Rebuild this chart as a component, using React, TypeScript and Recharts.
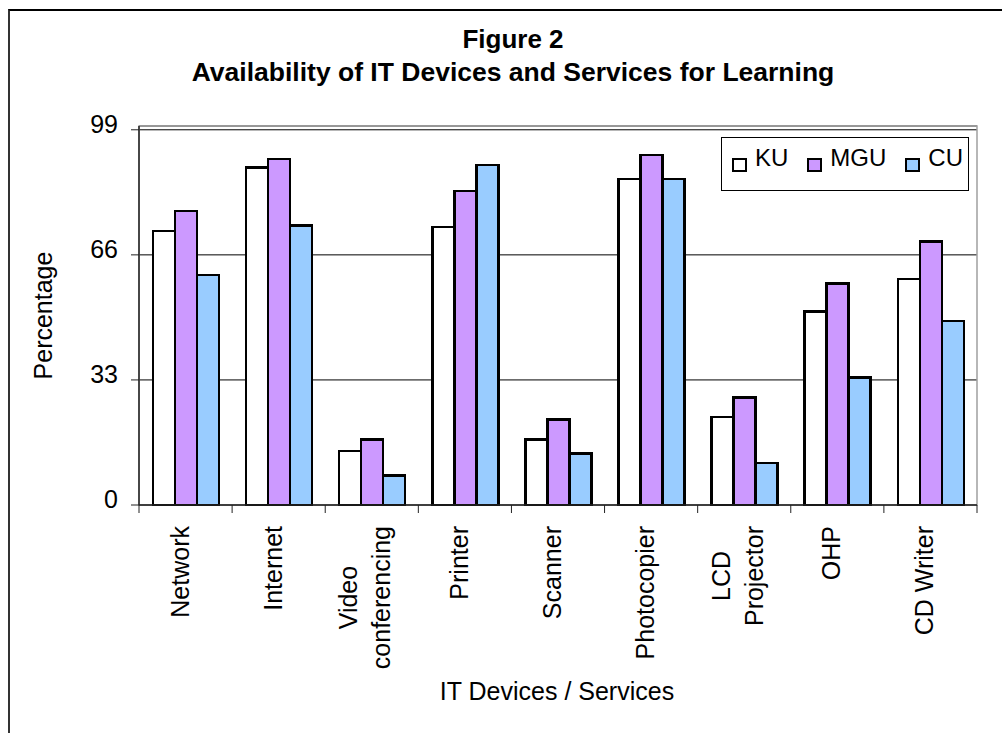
import { BarChart, Bar, XAxis, YAxis, CartesianGrid, Legend, ReferenceArea } from 'recharts';

const FONT = '"Liberation Sans", Arial, sans-serif';

const categories = [
  'Network',
  'Internet',
  'Video conferencing',
  'Printer',
  'Scanner',
  'Photocopier',
  'LCD Projector',
  'OHP',
  'CD Writer',
];
// how each category label is broken into lines under the axis
const tickLines = [
  ['Network'],
  ['Internet'],
  ['Video', 'conferencing'],
  ['Printer'],
  ['Scanner'],
  ['Photocopier'],
  ['LCD', 'Projector'],
  ['OHP'],
  ['CD Writer'],
];
const kuValues = [72.3, 89.1, 14.3, 73.4, 17.3, 86, 23.2, 51.1, 59.6];
const mguValues = [77.6, 91.3, 17.3, 82.9, 22.6, 92.4, 28.4, 58.5, 69.5];
const cuValues = [60.7, 73.8, 7.8, 89.7, 13.6, 86, 11.1, 33.7, 48.5];
const yTicks = [0, 33, 66, 99];
const seriesNames = ['KU', 'MGU', 'CU'];

const COLORS = ['#FFFFFF', '#CC99FF', '#99CCFF'];

const data = categories.map((name, i) => ({
  name,
  KU: kuValues[i],
  MGU: mguValues[i],
  CU: cuValues[i],
}));

let ctx: CanvasRenderingContext2D | null = null;
function textWidth(s: string, size: number) {
  if (!ctx) ctx = document.createElement('canvas').getContext('2d');
  if (!ctx) return s.length * size * 0.5;
  ctx.font = `${size}px ${FONT}`;
  return ctx.measureText(s).width;
}

function CategoryTick(props: any) {
  const { x, y, payload } = props;
  const idx = categories.indexOf(payload.value);
  const lines = tickLines[idx] || [payload.value];
  const half = payload.offset || 0;
  const top = y + 21;
  const longest = Math.max(...lines.map((l) => textWidth(l, 25)));

  return (
    <g>
      <line x1={x - half} y1={y} x2={x - half} y2={y + 8} stroke="#222" />
      {idx === categories.length - 1 && (
        <line x1={x + half} y1={y} x2={x + half} y2={y + 8} stroke="#222" />
      )}
      {lines.length === 1 ? (
        <text
          transform={`translate(${x + 3}, ${top}) rotate(-90)`}
          textAnchor="end"
          fontSize={25}
          fontFamily={FONT}
          fill="#000"
        >
          {lines[0]}
        </text>
      ) : (
        lines.map((l, i) => (
          <text
            key={l}
            transform={`translate(${x - 14.5 + i * 33}, ${top + longest / 2}) rotate(-90)`}
            textAnchor="middle"
            fontSize={25}
            fontFamily={FONT}
            fill="#000"
          >
            {l}
          </text>
        ))
      )}
    </g>
  );
}

function ValueTick(props: any) {
  const { x, y, payload } = props;
  return (
    <text x={x} y={y + 3} textAnchor="end" fontSize={25} fontFamily={FONT} fill="#000">
      {payload.value}
    </text>
  );
}

// bars with a heavy black outline, like the original
const OutlinedBar = (props: any) => {
  const { x, y, width, height, fill } = props;
  if (!height || height <= 0) return null;
  return (
    <rect
      x={x}
      y={y}
      width={width}
      height={height}
      fill={fill}
      stroke="#000"
      strokeWidth={2.5}
      shapeRendering="crispEdges"
    />
  );
};

const renderLegend = () => (
  <div
    style={{
      boxSizing: 'border-box',
      width: 248,
      height: 54,
      border: '1px solid #000',
      background: '#fff',
      display: 'flex',
      paddingLeft: 10,
      paddingTop: 8,
      fontSize: 24,
      lineHeight: '24px',
      fontFamily: FONT,
      color: '#000',
    }}
  >
    {seriesNames.map((name, i) => (
      <div key={name} style={{ display: 'flex', alignItems: 'flex-start', marginRight: 19 }}>
        <span
          style={{
            display: 'block',
            boxSizing: 'border-box',
            width: 15,
            height: 14,
            border: '2px solid #000',
            background: COLORS[i],
            marginTop: 12,
            marginRight: 8,
          }}
        />
        <span>{name}</span>
      </div>
    ))}
  </div>
);

export default function App() {
  return (
    <div
      style={{
        position: 'absolute',
        left: 0,
        top: 0,
        width: 1002,
        height: 733,
        background: '#fff',
        overflow: 'hidden',
      }}
    >
      <BarChart
        width={1002}
        height={733}
        data={data}
        margin={{ top: 126, right: 25, bottom: 0, left: 8 }}
        barCategoryGap="15%"
        barGap={0}
      >
        <ReferenceArea y1={0} y2={100} fill="none" stroke="#a0a0a0" strokeWidth={1.5} />
        <CartesianGrid vertical={false} stroke="#000" />
        <XAxis
          dataKey="name"
          height={228}
          interval={0}
          tickSize={0}
          tickMargin={0}
          tickLine={false}
          axisLine={{ stroke: '#222', strokeWidth: 1.5 }}
          tick={<CategoryTick />}
          label={{
            content: ({ viewBox }: any) => (
              <text
                x={viewBox.x + viewBox.width / 2 - 1}
                y={viewBox.y + 195}
                textAnchor="middle"
                fontSize={25}
                fontFamily={FONT}
                fill="#000"
              >
                IT Devices / Services
              </text>
            ),
          }}
        />
        <YAxis
          width={131}
          domain={[0, 100]}
          ticks={yTicks}
          interval={0}
          tickSize={8}
          tickMargin={13}
          axisLine={{ stroke: '#222', strokeWidth: 1.5 }}
          tickLine={{ stroke: '#222' }}
          tick={<ValueTick />}
          label={{
            content: ({ viewBox }: any) => (
              <text
                transform={`translate(${viewBox.x + 44}, ${viewBox.y + viewBox.height / 2}) rotate(-90)`}
                textAnchor="middle"
                fontSize={25}
                fontFamily={FONT}
                fill="#000"
              >
                Percentage
              </text>
            ),
          }}
        />
        <Legend
          layout="horizontal"
          verticalAlign="middle"
          align="center"
          wrapperStyle={{ left: 721, top: 137, width: 248, height: 54 }}
          content={renderLegend}
        />
        <Bar dataKey="KU" fill={COLORS[0]} shape={OutlinedBar} isAnimationActive={false} />
        <Bar dataKey="MGU" fill={COLORS[1]} shape={OutlinedBar} isAnimationActive={false} />
        <Bar dataKey="CU" fill={COLORS[2]} shape={OutlinedBar} isAnimationActive={false} />
      </BarChart>

      <div
        style={{
          position: 'absolute',
          left: 8,
          top: 9,
          width: 1000,
          height: 730,
          borderTop: '2px solid #000',
          borderLeft: '2px solid #333',
          pointerEvents: 'none',
        }}
      />
      <div
        style={{
          position: 'absolute',
          left: 0,
          width: 1026,
          top: 26,
          textAlign: 'center',
          fontFamily: FONT,
          fontWeight: 'bold',
          fontSize: 26,
          lineHeight: '26px',
          color: '#000',
        }}
      >
        Figure 2
      </div>
      <div
        style={{
          position: 'absolute',
          left: 0,
          width: 1026,
          top: 59,
          textAlign: 'center',
          fontFamily: FONT,
          fontWeight: 'bold',
          fontSize: 26.5,
          lineHeight: '26px',
          color: '#000',
        }}
      >
        Availability of IT Devices and Services for Learning
      </div>
    </div>
  );
}
